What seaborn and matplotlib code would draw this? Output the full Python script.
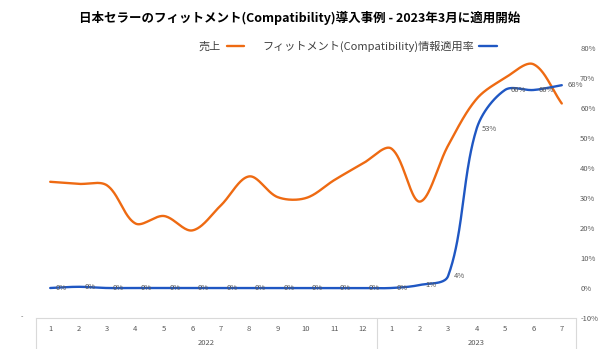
import numpy as np
import pandas as pd
import matplotlib
matplotlib.use("Agg")
import matplotlib.pyplot as plt
import matplotlib.transforms as mtransforms
from matplotlib.lines import Line2D
import seaborn as sns

# ---------------- data ----------------
months = ["1", "2", "3", "4", "5", "6", "7", "8", "9", "10", "11", "12",
          "1", "2", "3", "4", "5", "6", "7"]
years = ["2022", "2023"]
year_sizes = [12, 7]
# 売上 (left axis hidden, values expressed on the same visual scale)
sales = [35.4, 34.7, 34.2, 21.5, 24.0, 19.2, 27.5, 37.2, 30.3, 30.0, 36.0, 41.5,
         46.5, 28.8, 47.5, 63.0, 70.0, 74.6, 61.5]
# フィットメント(Compatibility)情報適用率 (%)
rate = [0.0, 0.4, 0.0, 0.0, 0.0, 0.0, 0.0, 0.0, 0.0, 0.0, 0.0, 0.0,
        0.0, 1.0, 4.0, 53.0, 66.0, 66.0, 67.6]

title = "日本セラーのフィットメント(Compatibility)導入事例 - 2023年3月に適用開始"
label_sales = "売上"
label_rate = "フィットメント(Compatibility)情報適用率"

ORANGE = "#EE6A12"
BLUE = "#1F57C3"
GRAY = "#595959"
LINEGRAY = "#D9D9D9"

PX_X = 540 / 19.0   # screen px per category
PX_Y = 270 / 90.0   # screen px per percent unit


def excel_smooth(y, n=40):
    """Bezier smoothing computed in screen space, control lengths weighted by segment lengths."""
    m = len(y)
    P = np.column_stack([np.arange(m, dtype=float) * PX_X, np.asarray(y, float) * PX_Y])
    out = []
    for i in range(m - 1):
        p0 = P[max(i - 1, 0)]
        p1 = P[i]
        p2 = P[i + 1]
        p3 = P[min(i + 2, m - 1)]
        d01 = np.hypot(*(p1 - p0))
        d12 = np.hypot(*(p2 - p1))
        d23 = np.hypot(*(p3 - p2))
        f1 = d12 / (d01 + d12) if (d01 + d12) > 0 else 0.5
        f2 = d12 / (d12 + d23) if (d12 + d23) > 0 else 0.5
        c1 = p1 + (p2 - p0) * f1 / 3.0
        c2 = p2 - (p3 - p1) * f2 / 3.0
        t = np.linspace(0, 1, n, endpoint=(i == m - 2))[:, None]
        seg = ((1 - t) ** 3) * p1 + 3 * ((1 - t) ** 2) * t * c1 + 3 * (1 - t) * (t ** 2) * c2 + (t ** 3) * p2
        out.append(seg)
    res = np.vstack(out)
    res[:, 0] /= PX_X
    res[:, 1] /= PX_Y
    return res


sns.set_theme(style="white")
plt.rcParams["font.family"] = ["Noto Sans CJK JP", "DejaVu Sans"]

fig = plt.figure(figsize=(6.0, 3.49), dpi=100)
ax = fig.add_axes([36 / 600, 1 - 318 / 349, 540 / 600, 270 / 349])

s_curve = excel_smooth(sales)
r_curve = excel_smooth(rate)
df_s = pd.DataFrame({"x": s_curve[:, 0], "y": s_curve[:, 1]})
df_r = pd.DataFrame({"x": r_curve[:, 0], "y": r_curve[:, 1]})

sns.lineplot(data=df_s, x="x", y="y", ax=ax, color=ORANGE, linewidth=1.7,
             sort=False, estimator=None)
sns.lineplot(data=df_r, x="x", y="y", ax=ax, color=BLUE, linewidth=1.7,
             sort=False, estimator=None)

# data labels for rate
for i, v in enumerate(rate):
    ax.annotate(f"{v:.0f}%", (i, v), xytext=(4, 0), textcoords="offset points",
                ha="left", va="center", fontsize=5.5, color=GRAY)

ax.set_xlim(-0.5, len(months) - 0.5)
ax.set_ylim(-10, 80)
ax.set_xlabel("")
ax.set_ylabel("")

# right axis ticks
ax.yaxis.tick_right()
ax.set_yticks(np.arange(-10, 81, 10))
ax.set_yticklabels([f"{t}%" for t in range(-10, 81, 10)])
ax.tick_params(axis="y", length=0, pad=3, labelsize=5.5, labelcolor=GRAY)

# category axis
ax.set_xticks(range(len(months)))
ax.set_xticklabels(months)
ax.tick_params(axis="x", length=0, pad=5, labelsize=5.5, labelcolor=GRAY)

for sp in ["top", "left", "right"]:
    ax.spines[sp].set_visible(False)
ax.spines["bottom"].set_color(LINEGRAY)
ax.spines["bottom"].set_linewidth(0.8)

trans = mtransforms.blended_transform_factory(ax.transData, ax.transAxes)
bounds = [-0.5]
acc = -0.5
for n in year_sizes:
    acc += n
    bounds.append(acc)
for b in bounds:
    ax.add_line(Line2D([b, b], [0, -0.2], transform=trans, color=LINEGRAY,
                       linewidth=0.8, clip_on=False))
for k, yr in enumerate(years):
    cx = (bounds[k] + bounds[k + 1]) / 2
    ax.text(cx, -0.092, yr, transform=trans, ha="center", va="center",
            fontsize=5.5, color=GRAY)

# hidden primary-axis bottom label
fig.text(22 / 600, 1 - 317 / 349, "-", ha="center", va="center", fontsize=5, color=GRAY)

# title
fig.text(0.5, 1 - 18 / 349, title, ha="center", va="center", fontsize=9,
         fontweight="bold", color="#000000")

# legend (label first, then line)
handles = [Line2D([], [], color=ORANGE, linewidth=1.7),
           Line2D([], [], color=BLUE, linewidth=1.7)]
fig.legend(handles, [label_sales, label_rate], loc="center",
           bbox_to_anchor=(348 / 600, 1 - 46 / 349), ncol=2, frameon=False,
           markerfirst=False, fontsize=8, handlelength=1.6, columnspacing=1.6,
           handletextpad=0.5, labelcolor="#404040")

fig.savefig("out.png", dpi=100)
